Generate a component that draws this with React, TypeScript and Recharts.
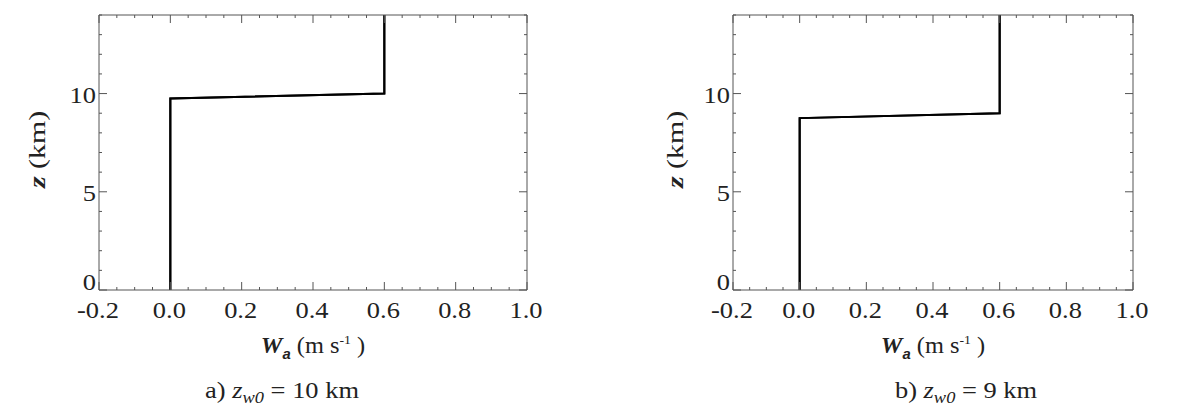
import React from "react";
import { LineChart, Line, XAxis, YAxis } from "recharts";

// profile a) z_w0 = 10 km
const windA = [0, 0, 0.6, 0.6];
const heightA = [0, 9.75, 10, 14];
// profile b) z_w0 = 9 km
const windB = [0, 0, 0.6, 0.6];
const heightB = [0, 8.75, 9, 14];

const xMajor = [-0.2, 0, 0.2, 0.4, 0.6, 0.8, 1.0];
const xMinor = [
  -0.2, -0.15, -0.1, -0.05, 0, 0.05, 0.1, 0.15, 0.2, 0.25, 0.3, 0.35, 0.4,
  0.45, 0.5, 0.55, 0.6, 0.65, 0.7, 0.75, 0.8, 0.85, 0.9, 0.95, 1.0,
];
const yMajor = [0, 5, 10];
const yMinor = [0, 1, 2, 3, 4, 5, 6, 7, 8, 9, 10, 11, 12, 13, 14];

const FONT = "'Liberation Serif', 'Times New Roman', serif";
const AXIS = "#555";
const TEXT = "#222";
const SX = 1.15; // reference glyphs are a bit wider than Times

const isMajor = (v: number, majors: number[]) =>
  majors.some((m) => Math.abs(m - v) < 1e-6);

function tick(side: string, majors: number[], labels: boolean, fmt: (v: number) => string) {
  return (props: any) => {
    const { x, y, payload } = props;
    const v = payload.value;
    const major = isMajor(v, majors);
    const len = major ? 8 : 3;
    let line;
    if (side === "bottom") line = <line x1={x} x2={x} y1={y} y2={y - len} stroke={AXIS} />;
    else if (side === "top") line = <line x1={x} x2={x} y1={y} y2={y + len} stroke={AXIS} />;
    else if (side === "left") line = <line x1={x} x2={x + len} y1={y} y2={y} stroke={AXIS} />;
    else line = <line x1={x} x2={x - len} y1={y} y2={y} stroke={AXIS} />;
    let label = null;
    if (labels && major) {
      if (side === "bottom")
        label = (
          <text transform={`translate(${x - 1} ${y + 28}) scale(${SX} 1)`} textAnchor="middle" fontSize={23} fontFamily={FONT} fill={TEXT}>
            {fmt(v)}
          </text>
        );
      else if (side === "left")
        label = (
          <text transform={`translate(${x - 3} ${v === 0 ? y : y + 9}) scale(${SX} 1)`} textAnchor="end" fontSize={23} fontFamily={FONT} fill={TEXT}>
            {fmt(v)}
          </text>
        );
    }
    return (
      <g>
        {line}
        {label}
      </g>
    );
  };
}

function yLabel(dx: number) {
  return (props: any) => {
    const vb = props.viewBox;
    const cx = vb.x + dx;
    const cy = vb.y + vb.height / 2;
    return (
      <text
        transform={`translate(${cx} ${cy - 3}) rotate(-90) scale(1.3 1)`}
        textAnchor="middle"
        dominantBaseline="central"
        fontSize={23}
        fontFamily={FONT}
        fill={TEXT}
      >
        <tspan fontStyle="italic" fontWeight="bold">z</tspan>
        <tspan> (km)</tspan>
      </text>
    );
  };
}

function xLabel(capDx: number, tag: string, zw: string, gap: string) {
  return (props: any) => {
    const vb = props.viewBox;
    const cx = vb.x + vb.width / 2;
    const top = vb.y;
    return (
      <g fontFamily={FONT} fill={TEXT}>
        <text transform={`translate(${cx} ${top + 63}) scale(1.06 1)`} textAnchor="middle" fontSize={23}>
          <tspan fontStyle="italic" fontWeight="bold">W</tspan>
          <tspan fontStyle="italic" fontWeight="bold" fontSize={14} fontFamily="'Liberation Sans', Arial, sans-serif" dy={6}>a</tspan>
          <tspan dy={-6}> (m s</tspan>
          <tspan fontSize={13} dy={-9}>-1</tspan>
          <tspan dy={9}> )</tspan>
        </text>
        <text transform={`translate(${cx + capDx} ${top + 108}) scale(${SX} 1)`} textAnchor="middle" fontSize={23}>
          <tspan>{tag}) </tspan>
          <tspan fontStyle="italic">z</tspan>
          <tspan fontStyle="italic" fontSize={16} dy={5}>w0</tspan>
          <tspan dy={-5}>{" =" + gap + zw + " km"}</tspan>
        </text>
      </g>
    );
  };
}

type PanelProps = {
  left: number;
  width: number;
  ml: number;
  mr: number;
  winds: number[];
  heights: number[];
  capDx: number;
  tag: string;
  zw: string;
  gap: string;
  yDx: number;
};

function Panel({ left, width, ml, mr, winds, heights, capDx, tag, zw, gap, yDx }: PanelProps) {
  const data = winds.map((w, i) => ({ w, z: heights[i] }));
  const fx = (v: number) => v.toFixed(1);
  const fy = (v: number) => String(v);
  return (
    <div style={{ position: "absolute", left, top: 0 }}>
      <LineChart width={width} height={418} data={data} margin={{ top: 14, right: mr - 1, left: ml, bottom: 68 }}>
        <XAxis
          dataKey="w"
          type="number"
          domain={[-0.2, 1.0]}
          ticks={xMinor}
          interval={0}
          height={60}
          tickSize={0}
          tickMargin={0}
          tickLine={false}
          axisLine={{ stroke: AXIS }}
          tick={tick("bottom", xMajor, true, fx)}
          label={{ content: xLabel(capDx, tag, zw, gap) }}
        />
        <XAxis
          xAxisId="top"
          dataKey="w"
          orientation="top"
          type="number"
          domain={[-0.2, 1.0]}
          ticks={xMinor}
          interval={0}
          height={1}
          tickSize={0}
          tickMargin={0}
          tickLine={false}
          axisLine={{ stroke: AXIS }}
          tick={tick("top", xMajor, false, fx)}
        />
        <YAxis
          type="number"
          domain={[0, 14]}
          ticks={yMinor}
          interval={0}
          width={60}
          tickSize={0}
          tickMargin={0}
          tickLine={false}
          axisLine={{ stroke: AXIS }}
          tick={tick("left", yMajor, true, fy)}
          label={{ content: yLabel(yDx) }}
        />
        <YAxis
          yAxisId="right"
          orientation="right"
          type="number"
          domain={[0, 14]}
          ticks={yMinor}
          interval={0}
          width={1}
          tickSize={0}
          tickMargin={0}
          tickLine={false}
          axisLine={{ stroke: AXIS }}
          tick={tick("right", yMajor, false, fy)}
        />
        {/* same profile bound to the frame axes so their scales are set */}
        <Line
          xAxisId="top"
          yAxisId="right"
          dataKey="z"
          type="linear"
          stroke="#000"
          strokeWidth={2}
          dot={false}
          isAnimationActive={false}
        />
        <Line
          dataKey="z"
          type="linear"
          stroke="#000"
          strokeWidth={2}
          dot={false}
          isAnimationActive={false}
        />
      </LineChart>
    </div>
  );
}

export default function App() {
  return (
    <div style={{ position: "absolute", left: 0, top: 0, width: 1200, height: 418, background: "#fff", overflow: "hidden" }}>
      <Panel left={0} width={560} ml={39} mr={33} winds={windA} heights={heightA} capDx={-31} tag="a" zw="10" gap="  " yDx={-2} />
      <Panel left={640} width={520} ml={33} mr={27} winds={windB} heights={heightB} capDx={33} tag="b" zw="9" gap=" " yDx={2} />
    </div>
  );
}
